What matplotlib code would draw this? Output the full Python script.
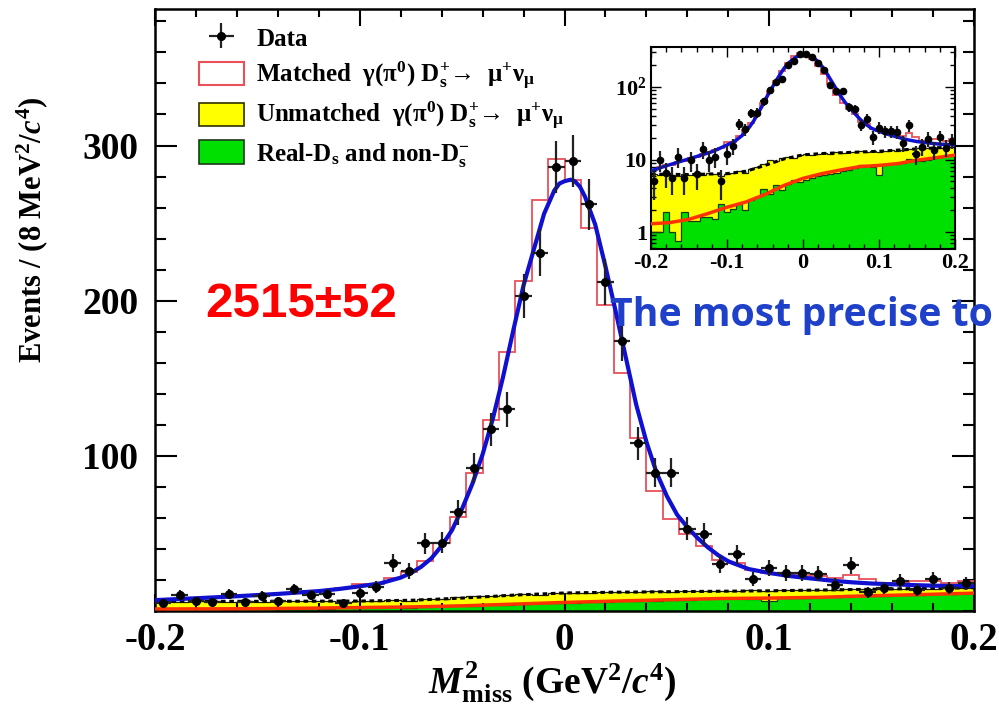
import numpy as np
import matplotlib
matplotlib.use("Agg")
import matplotlib.pyplot as plt
from matplotlib.patches import Patch
from matplotlib.ticker import MultipleLocator, FixedLocator, FixedFormatter, LogLocator, NullFormatter

# ---- data (50 bins of 8 MeV^2 from -0.2 to 0.2) ----
edges = np.linspace(-0.2, 0.2, 51)
centres = 0.5 * (edges[:-1] + edges[1:])

data_counts = [5, 10, 6.5, 5.5, 11, 5.5, 9.8, 6.3, 14, 10,
               11, 5, 11.8, 15.5, 31, 26, 43.5, 44, 63.5, 92,
               117, 130, 203, 231, 286, 290, 262, 212, 174, 108,
               89, 89, 53, 49.5, 30, 36.5, 20.5, 27.5, 24.5, 24.5,
               24, 17, 29.5, 12, 15, 19.5, 13.5, 20.4, 14.6, 18]
data_err = [2.2, 3.2, 2.5, 2.3, 3.3, 2.3, 3.1, 2.5, 3.7, 3.2,
            3.3, 2.2, 3.4, 3.9, 5.6, 5.1, 6.6, 6.6, 8.0, 9.6,
            10.8, 11.4, 14.2, 15.2, 16.9, 17.0, 16.2, 14.6, 13.2, 10.4,
            9.4, 9.4, 7.3, 7.0, 5.5, 6.0, 4.5, 5.2, 4.9, 4.9,
            4.9, 4.1, 5.4, 3.5, 3.9, 4.4, 3.7, 4.5, 3.8, 4.2]

# matched signal MC (drawn as red outline, stacked total)
matched_total = [7.2, 7.8, 8.3, 8.5, 9.2, 9.6, 10.4, 11.0, 11.8, 12.6,
                 13.6, 14.6, 17.4, 17.4, 21, 25.4, 32.2, 43.7, 60.8, 89,
                 123, 166.7, 212.5, 265, 291, 278, 247, 197.4, 153.3, 111.4,
                 77.5, 59.4, 49.5, 42, 33, 31, 26.5, 24.7, 24, 23.2,
                 22.6, 21, 23.2, 20.4, 17.8, 17.8, 19, 19, 17.8, 19]

# real-Ds and non-Ds background (green)
nonds_counts = [1.0, 1.0, 1.9, 1.0, 0.75, 1.9, 1.4, 1.4, 1.6, 1.6,
                1.5, 2.4, 1.9, 2.1, 2.4, 2.0, 2.8, 3.0, 3.9, 3.3,
                4.4, 3.8, 4.6, 5.3, 4.9, 5.2, 5.6, 5.9, 6.2, 6.4,
                6.6, 7.0, 7.2, 7.6, 8.4, 8.2, 8.0, 6.2, 8.3, 8.6,
                8.8, 9.0, 10.2, 9.5, 9.6, 10.0, 10.4, 10.8, 11.2, 11.5]

# green + unmatched (top of yellow)
bkg_total = [6.3, 6.1, 6.4, 6.2, 6.0, 6.3, 6.1, 6.4, 6.2, 6.5,
             6.3, 6.0, 6.4, 6.6, 6.9, 6.6, 7.4, 7.9, 8.8, 9.8,
             9.4, 10.5, 11.0, 10.6, 11.4, 11.8, 11.5, 12.0, 12.3, 12.0,
             12.6, 12.3, 12.8, 12.6, 13.0, 12.8, 13.2, 12.9, 13.3, 13.5,
             13.2, 13.6, 13.9, 14.2, 14.0, 14.4, 14.6, 14.3, 14.8, 15.0]

# total fit curve (blue)
fit_x = [-0.2, -0.18, -0.16, -0.14, -0.12, -0.11, -0.1, -0.09, -0.08, -0.075,
         -0.07, -0.065, -0.06, -0.055, -0.05, -0.045, -0.04, -0.035, -0.03, -0.025,
         -0.02, -0.015, -0.01, -0.005, -0.0025, 0.0, 0.003, 0.005, 0.0075, 0.01,
         0.015, 0.02, 0.025, 0.03, 0.035, 0.04, 0.045, 0.05, 0.055, 0.06,
         0.065, 0.07, 0.075, 0.08, 0.09, 0.1, 0.11, 0.12, 0.13, 0.14,
         0.15, 0.16, 0.17, 0.18, 0.19, 0.2]
fit_y = [7.0, 8.2, 9.5, 11.0, 12.8, 14.2, 15.9, 17.8, 21.5, 24.5,
         28.5, 34, 42, 52, 66, 82, 101, 124, 151, 181,
         210, 233, 256, 271, 275.5, 277, 278, 277, 273.5, 267,
         249, 222, 193, 163, 133, 109, 89, 74, 62, 54,
         47, 41, 36, 32, 27, 24.5, 22.5, 21, 19.6, 18.5,
         17.7, 17.2, 16.7, 16.3, 16.1, 16.0]

# background fit curves
bkgfit_x = [-0.2, -0.175, -0.15, -0.125, -0.1, -0.075, -0.05, -0.025, 0.0,
            0.025, 0.05, 0.075, 0.1, 0.125, 0.15, 0.175, 0.2]
nonds_fit = [1.3, 1.35, 1.5, 1.8, 2.2, 2.6, 3.3, 4.4, 5.5,
             6.4, 7.2, 8.0, 8.3, 8.8, 9.8, 10.6, 11.5]
bkg_fit = [6.3, 6.25, 6.2, 6.3, 6.4, 6.9, 8.3, 10.2, 11.6,
           12.1, 12.4, 12.7, 13.0, 13.5, 14.0, 14.5, 15.0]

GREEN = "#00e000"
YELLOW = "#ffff00"
RED_H = "#e8505a"
ORANGE = "#ff3300"
BLUE = "#1010d0"

plt.rcParams['font.family'] = ['Liberation Serif', 'DejaVu Serif']
plt.rcParams['font.weight'] = 'bold'
plt.rcParams['axes.labelweight'] = 'bold'
plt.rcParams['mathtext.fontset'] = 'custom'
plt.rcParams['mathtext.rm'] = 'Liberation Serif:bold'
plt.rcParams['mathtext.bf'] = 'Liberation Serif:bold'
plt.rcParams['mathtext.it'] = 'Liberation Serif:italic:bold'
plt.rcParams['mathtext.default'] = 'rm'


def draw_all(ax, log=False, ms=5.5, lw_fit=3.0):
    base = 1e-3 if log else 0
    ax.stairs(nonds_counts, edges, baseline=base, fill=True, color=GREEN, zorder=1)
    ax.stairs(bkg_total, edges, baseline=nonds_counts, fill=True, color=YELLOW, zorder=1)
    ax.stairs(nonds_counts, edges, baseline=None, color="#1a3a1a", lw=0.9, zorder=2)
    ax.stairs(bkg_total, edges, baseline=None, color="#202000", lw=0.9, zorder=2)
    ax.plot(bkgfit_x, nonds_fit, color=ORANGE, lw=2.5, zorder=3)
    ax.plot(bkgfit_x, bkg_fit, color="black", lw=2.2, ls=(0, (1.5, 1.2)), zorder=3)
    ax.stairs(matched_total, edges, baseline=None, color=RED_H, lw=1.3, zorder=4)
    ax.plot(fit_x, fit_y, color=BLUE, lw=lw_fit, zorder=5)
    eb = ax.errorbar(centres, data_counts, xerr=0.004, yerr=data_err, fmt="o",
                     color="black", ecolor="#222222", elinewidth=1.6, ms=ms,
                     capsize=0, zorder=6)
    return eb


fig = plt.figure(figsize=(9.99, 7.14), dpi=100)
ax = fig.add_axes([0.1552, 0.1443, 0.8198, 0.8431])
eb = draw_all(ax)

ax.set_xlim(-0.2, 0.2)
ax.set_ylim(0, 388)
ax.xaxis.set_minor_locator(MultipleLocator(0.02))
ax.yaxis.set_major_locator(FixedLocator([100, 200, 300]))
ax.yaxis.set_minor_locator(MultipleLocator(20))
ax.set_xticks([-0.2, -0.1, 0, 0.1, 0.2])
ax.set_xticklabels(["-0.2", "-0.1", "0", "0.1", "0.2"])
ax.tick_params(which="both", direction="in", top=True, right=True, width=1.5)
ax.tick_params(axis="y", which="major", length=16, labelsize=27, pad=12)
ax.tick_params(axis="y", which="minor", length=8)
ax.tick_params(axis="x", which="major", length=12, labelsize=28, pad=8)
ax.tick_params(axis="x", which="minor", length=6)
for s in ax.spines.values():
    s.set_linewidth(1.8)

ax.set_ylabel(r"Events / (8 MeV$^{2}$/$\mathit{c}^{4}$)", fontsize=22)
ax.yaxis.set_label_coords(-0.128, 0.855)
ax.yaxis.label.set_horizontalalignment("right")
ax.set_xlabel(r"$\mathit{M}^{2}_{\rm miss}$ (GeV$^{2}$/$\mathit{c}^{4}$)", fontsize=27)
ax.xaxis.set_label_coords(0.485, -0.082)

handles = [eb,
           Patch(facecolor="white", edgecolor=RED_H, lw=1.5),
           Patch(facecolor=YELLOW, edgecolor="#303000", lw=1.2),
           Patch(facecolor=GREEN, edgecolor="#1a3a1a", lw=1.2)]
labels = ["Data",
          "Matched  γ(π$^{0}$) D$_{s}^{+}$→  μ$^{+}$ν$_{μ}$",
          "Unmatched  γ(π$^{0}$) D$_{s}^{+}$→  μ$^{+}$ν$_{μ}$",
          "Real-D$_{s}$ and non-D$_{s}^{-}$"]
ax.legend(handles, labels, loc="upper left", bbox_to_anchor=(0.035, 0.997),
          frameon=False, fontsize=18, handlelength=1.8, handleheight=1.05,
          labelspacing=0.33, handletextpad=0.5, borderaxespad=0.2)

# inset with log scale
ins = fig.add_axes([0.6517, 0.651, 0.3043, 0.2836])
draw_all(ins, log=True, ms=4.5, lw_fit=2.5)
ins.set_yscale("log")
ins.set_xlim(-0.2, 0.2)
ins.set_ylim(0.58, 360)
ins.set_xticks([-0.2, -0.1, 0, 0.1, 0.2])
ins.set_xticklabels(["-0.2", "-0.1", "0", "0.1", "0.2"])
ins.xaxis.set_minor_locator(MultipleLocator(0.02))
ins.yaxis.set_major_locator(FixedLocator([1, 10, 100]))
ins.yaxis.set_major_formatter(FixedFormatter(["1", "10", "10$^{2}$"]))
ins.yaxis.set_minor_locator(LogLocator(base=10, subs=np.arange(2, 10)))
ins.yaxis.set_minor_formatter(NullFormatter())
ins.tick_params(which="both", direction="in", top=True, right=True, width=1.0,
                labelsize=16)
ins.tick_params(which="major", length=7, pad=3)
ins.tick_params(which="minor", length=3.5)
for s in ins.spines.values():
    s.set_linewidth(1.5)

fig.text(0.205, 0.573, "2515±52", color="#ff0000", fontsize=35.5,
         family="Liberation Sans", weight="bold", ha="left", va="center")
fig.text(0.611, 0.558, "The most precise to", color="#1f40c8", fontsize=28.3,
         family="Open Sans", weight="bold", ha="left", va="center")

fig.savefig("out.png", dpi=100)
